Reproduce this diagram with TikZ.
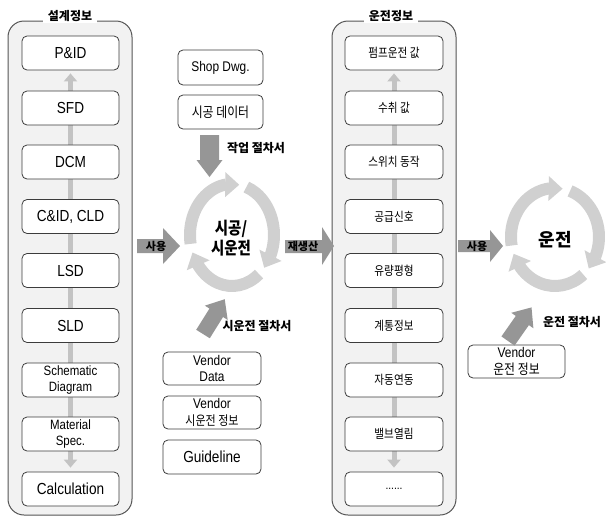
\documentclass[tikz,border=0pt]{standalone}
\usepackage{fontspec}
\setmainfont{Liberation Sans}[FakeStretch=0.85]
\newfontfamily\kr{Noto Sans CJK KR}[FakeStretch=0.85]
\newfontfamily\krw{Noto Sans CJK KR}
\usetikzlibrary{arrows.meta,bending}
\definecolor{panelfill}{RGB}{242,242,242}
\definecolor{panelline}{RGB}{85,85,85}
\definecolor{boxline}{RGB}{60,60,60}
\definecolor{fatarrow}{RGB}{150,150,150}
\definecolor{thinarrow}{RGB}{195,195,195}
\definecolor{ringcol}{RGB}{208,208,208}
\pgfdeclarelayer{back}
\pgfdeclarelayer{mid}
\pgfsetlayers{back,mid,main}
\begin{document}
\begin{tikzpicture}[x=1pt,y=1pt,
 panel/.style={draw=panelline,fill=panelfill,line width=1pt,rounded corners=16pt},
 ptitle/.style={fill=white,inner xsep=5pt,inner ysep=1.5pt,font=\krw\bfseries\fontsize{12}{14}\selectfont},
 box/.style={draw=boxline,fill=white,line width=0.8pt,rounded corners=5pt,minimum width=97pt,minimum height=34pt,inner sep=1pt,align=center,font=\fontsize{16}{18}\selectfont},
 small/.style={font=\fontsize{13.5}{16}\selectfont},
 krbox/.style={font=\kr\fontsize{12.5}{15}\selectfont},
 vline/.style={draw=thinarrow,line width=5pt,{Triangle[width=13pt,length=8pt]}-{Triangle[width=13pt,length=8pt]},shorten <=4pt,shorten >=3pt},
 fat/.style={fill=fatarrow},
 klabel/.style={font=\krw\bfseries\fontsize{12}{14}\selectfont},
 arlabel/.style={font=\krw\bfseries\fontsize{11}{13}\selectfont,inner sep=0pt},
 ringarrow/.style={draw=ringcol,line width=12pt,-{Triangle[width=24pt,length=14pt]}},
]
\useasboundingbox (0,0) rectangle (606,-517);

% panels
\begin{pgfonlayer}{back}
\draw[panel] (8,-21) rectangle (132,-515);
\draw[panel] (332,-21) rectangle (456,-515);
\end{pgfonlayer}
\node[ptitle] (t1) at (70,-16) {설계정보};
\node[ptitle] (t2) at (391,-16) {운전정보};

% left column
\node[box] (l1) at (70.5,-53) {P\&ID};
\node[box] (l2) at (70.5,-108) {SFD};
\node[box] (l3) at (70.5,-162) {DCM};
\node[box] (l4) at (70.5,-216.5) {C\&ID, CLD};
\node[box] (l5) at (70.5,-270.5) {LSD};
\node[box] (l6) at (70.5,-325.5) {SLD};
\node[box,small] (l7) at (70.5,-380) {Schematic\\Diagram};
\node[box,small] (l8) at (70.5,-434) {Material\\Spec.};
\node[box] (l9) at (70.5,-489) {Calculation};
\begin{pgfonlayer}{mid}
\draw[vline] (l9) -- (l1);
\end{pgfonlayer}

% right column
\node[box,krbox,minimum width=98pt] (r1) at (394,-53) {펌프운전 값};
\node[box,krbox,minimum width=98pt] (r2) at (394,-108) {수취 값};
\node[box,krbox,minimum width=98pt] (r3) at (394,-162) {스위치 동작};
\node[box,krbox,minimum width=98pt] (r4) at (394,-216.5) {공급신호};
\node[box,krbox,minimum width=98pt] (r5) at (394,-270.5) {유량평형};
\node[box,krbox,minimum width=98pt] (r6) at (394,-325.5) {계통정보};
\node[box,krbox,minimum width=98pt] (r7) at (394,-380) {자동연동};
\node[box,krbox,minimum width=98pt] (r8) at (394,-434) {밸브열림};
\node[box,minimum width=98pt,font=\fontsize{12}{14}\selectfont] (r9) at (394,-489) {......};
\begin{pgfonlayer}{mid}
\draw[vline] (r9) -- (r1);
\end{pgfonlayer}

% center column
\node[box,minimum width=85pt,minimum height=35pt,font=\fontsize{14}{16}\selectfont] (shop) at (220.5,-67.5) {Shop Dwg.};
\node[box,minimum width=85pt,font=\kr\fontsize{14}{16}\selectfont] (sgd) at (220.5,-112) {시공 데이터};
\node[box,minimum width=98pt,minimum height=33pt,font=\fontsize{14}{16.5}\selectfont] (vd) at (212,-368.5) {Vendor\\Data};
\node[box,minimum width=98pt,minimum height=33pt,font=\fontsize{14}{16.5}\selectfont] (vs) at (212,-412.5) {Vendor\\{\kr\fontsize{13}{16.5}\selectfont 시운전 정보}};
\node[box,minimum width=98pt] (gl) at (212,-457) {Guideline};
\node[box,minimum width=97pt,minimum height=33pt,font=\fontsize{14}{16.5}\selectfont] (vo) at (516.5,-361.5) {Vendor\\{\kr\fontsize{14}{16.5}\selectfont 운전 정보}};

% block arrows
\fill[fat] (137,-239) -- (163,-239) -- (163,-228) -- (180,-246) -- (163,-264) -- (163,-253) -- (137,-253) -- cycle;
\node[arlabel] (u1) at (156,-246) {사용};
\fill[fat] (285,-240) -- (322,-240) -- (322,-227) -- (334,-246) -- (322,-265) -- (322,-253) -- (285,-253) -- cycle;
\node[arlabel] (u2) at (303,-246) {재생산};
\fill[fat] (458,-240) -- (490,-240) -- (490,-230) -- (503,-246) -- (490,-262) -- (490,-252) -- (458,-252) -- cycle;
\node[arlabel] (u3) at (477,-246) {사용};
\fill[fat] (200,-135) -- (219,-135) -- (219,-160) -- (222.5,-160) -- (209.5,-177) -- (196.5,-160) -- (200,-160) -- cycle;
\begin{scope}[shift={(203,-334)},rotate=58]
\fill[fat] (0,-8) -- (25,-8) -- (25,-13.5) -- (41,0) -- (25,13.5) -- (25,8) -- (0,8) -- cycle;
\end{scope}
\begin{scope}[shift={(508,-341)},rotate=55]
\fill[fat] (0,-8) -- (25,-8) -- (25,-13.5) -- (41,0) -- (25,13.5) -- (25,8) -- (0,8) -- cycle;
\end{scope}
\node[klabel] (lab1) at (256,-148) {작업 절차서};
\node[klabel] (lab2) at (257,-326) {시운전 절차서};
\node[klabel] (lab3) at (572,-322) {운전 절차서};

% cycles
\coordinate (c1) at (232,-235);
\draw[ringarrow] (c1) ++(190:42 and 51) arc[start angle=190,end angle=80,x radius=42,y radius=51];
\draw[ringarrow] (c1) ++(70:42 and 51) arc[start angle=70,end angle=-40,x radius=42,y radius=51];
\draw[ringarrow] (c1) ++(-50:42 and 51) arc[start angle=-50,end angle=-160,x radius=42,y radius=51];
\node[font=\kr\bfseries\fontsize{17}{20}\selectfont,align=center] (cyc1) at (231,-238) {시공/\\시운전};

\coordinate (c2) at (555,-237);
\draw[ringarrow] (c2) ++(190:44 and 49) arc[start angle=190,end angle=80,x radius=44,y radius=49];
\draw[ringarrow] (c2) ++(70:44 and 49) arc[start angle=70,end angle=-40,x radius=44,y radius=49];
\draw[ringarrow] (c2) ++(-50:44 and 49) arc[start angle=-50,end angle=-160,x radius=44,y radius=49];
\node[font=\krw\bfseries\fontsize{18}{20}\selectfont] (cyc2) at (555,-240) {운전};
\end{tikzpicture}
\end{document}
